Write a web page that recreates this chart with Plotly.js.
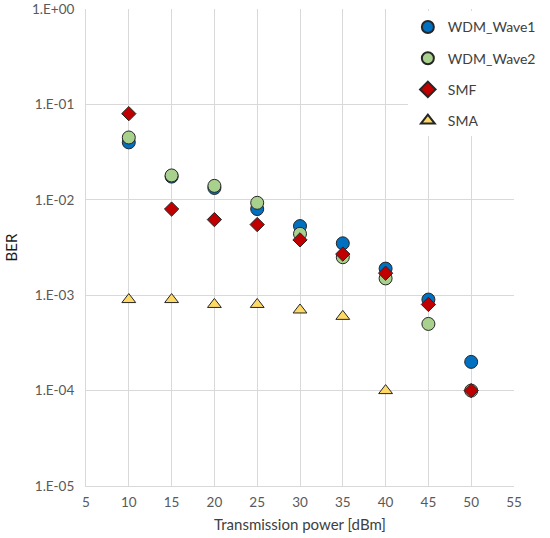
<!DOCTYPE html>
<html>
<head>
<meta charset="utf-8">
<script src="https://cdn.plot.ly/plotly-3.0.1.min.js"></script>
<style>
  html, body { margin: 0; padding: 0; background: #fff; }
  #chart { width: 550px; height: 538px; }
</style>
</head>
<body>
<div id="chart"></div>
<script>
// transmission power [dBm]
const power = [10, 15, 20, 25, 30, 35, 40, 45, 50];
const wave1 = [0.040, 0.0175, 0.0133, 0.0080, 0.0053, 0.0035, 0.0019, 0.0009, 0.0002];
const wave2 = [0.045, 0.018, 0.014, 0.0093, 0.0044, 0.0025, 0.0015, 0.0005, 0.0001];
const smf = [0.080, 0.0080, 0.0062, 0.0055, 0.0038, 0.0027, 0.0017, 0.0008, 0.0001];
const smaPower = [10, 15, 20, 25, 30, 35, 40];
const sma = [0.0009, 0.0009, 0.0008, 0.0008, 0.0007, 0.0006, 0.0001];

const berTicks = [1e-5, 1e-4, 1e-3, 1e-2, 1e-1, 1];
const berLabels = ['1.E-05', '1.E-04', '1.E-03', '1.E-02', '1.E-01', '1.E+00'];

const font = 'Lato, "Open Sans", sans-serif';
const edge = { color: '#262626', width: 1 };

function series(name, x, y, symbol, color, size) {
  return {
    name: name, x: x, y: y,
    type: 'scatter', mode: 'markers',
    legendgroup: name,
    marker: { symbol: symbol, color: color, size: size, line: edge }
  };
}

const data = [
  series('WDM_Wave1', power, wave1, 'circle', '#0070C0', 13),
  series('WDM_Wave2', power, wave2, 'circle', '#A9D18E', 13),
  series('SMF', power, smf, 'diamond', '#C00000', 11),
  series('SMA', smaPower, sma, 'triangle-up', '#FFD966', 12)
];

const layout = {
  width: 550, height: 538,
  margin: { l: 86, r: 36, t: 9, b: 52, autoexpand: false },
  paper_bgcolor: '#fff', plot_bgcolor: '#fff',
  font: { family: font, size: 13, color: '#595959' },
  showlegend: true,
  legend: {
    x: 0.752, y: 0.995, xanchor: 'left', yanchor: 'top',
    bgcolor: '#fff', borderwidth: 0,
    font: { family: font, size: 14, color: '#404040' },
    traceorder: 'grouped', tracegroupgap: 10,
    itemsizing: 'constant'
  },
  xaxis: {
    range: [5, 55], dtick: 5, tick0: 5,
    showgrid: true, gridcolor: '#d9d9d9', gridwidth: 1,
    zeroline: false, showline: true, linecolor: '#d9d9d9',
    ticks: '', ticklen: 0, ticklabelstandoff: 4,
    tickfont: { family: font, size: 13.5, color: '#595959' },
    title: { text: 'Transmission power [dBm]', font: { family: font, size: 15, color: '#404040' }, standoff: 10 }
  },
  yaxis: {
    type: 'log', range: [-5, 0],
    tickvals: berTicks, ticktext: berLabels,
    ticklabeloverflow: 'allow',
    showgrid: true, gridcolor: '#d9d9d9', gridwidth: 1,
    zeroline: false, showline: true, linecolor: '#d9d9d9',
    ticks: '', ticklen: 0, ticklabelstandoff: 8,
    tickfont: { family: font, size: 13.5, color: '#595959' },
    title: { text: 'BER', font: { family: font, size: 15, color: '#1a1a1a' }, standoff: 10 }
  }
};

Plotly.newPlot('chart', data, layout, { displayModeBar: false, staticPlot: true });
</script>
</body>
</html>
